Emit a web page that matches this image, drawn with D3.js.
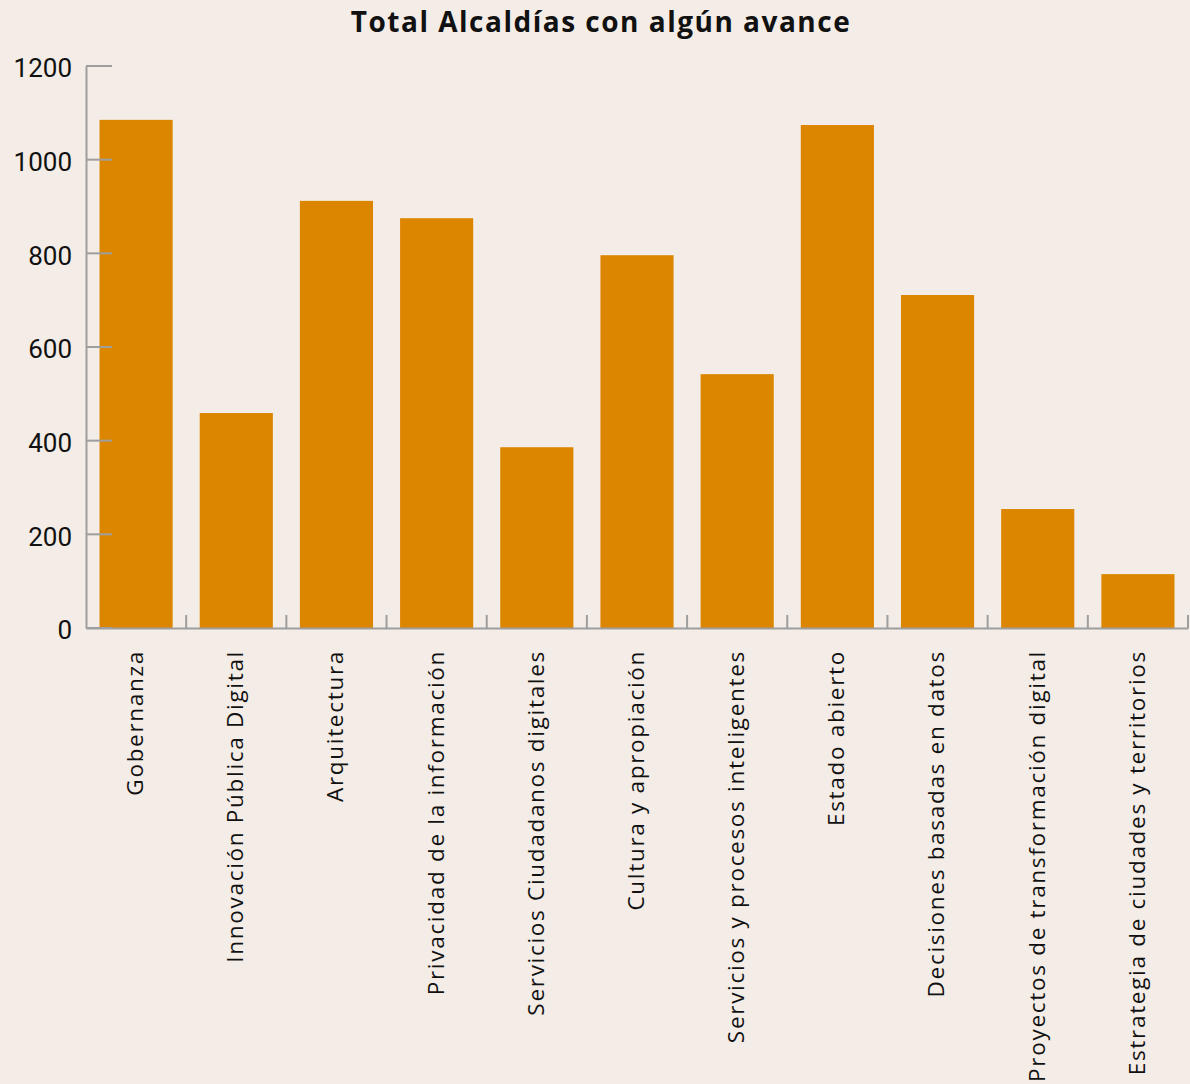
<!DOCTYPE html>
<html><head><meta charset="utf-8">
<script src="https://cdn.jsdelivr.net/npm/d3@7"></script>
<style>
html,body{margin:0;padding:0;background:#f4ece6;}
svg{display:block;}
</style></head>
<body>
<svg id="chart" width="1190" height="1084"></svg>
<script>
const categories = ["Gobernanza","Innovación Pública Digital","Arquitectura","Privacidad de la información","Servicios Ciudadanos digitales","Cultura y apropiación","Servicios y procesos inteligentes","Estado abierto","Decisiones basadas en datos","Proyectos de transformación digital","Estrategia de ciudades y territorios"];
const values = [1085, 459, 912, 875, 386, 796, 542, 1074, 711, 254, 115];
const yTicks = [0, 200, 400, 600, 800, 1000, 1200];
const title = "Total Alcaldías con algún avance";

const svg = d3.select("#chart");
svg.append("rect").attr("width",1190).attr("height",1084).attr("fill","#f4ece6");

const x0 = 86, x1 = 1188, yBase = 628, yTop = 66;
const x = d3.scaleBand().domain(categories).range([x0, x1]).paddingInner(0.27).paddingOuter(0.135);
const y = d3.scaleLinear().domain([0, 1200]).range([yBase, yTop]);

svg.append("text").attr("x", 601).attr("y", 32).attr("text-anchor","middle")
  .attr("font-family","'Open Sans', sans-serif").attr("font-weight","bold")
  .attr("font-size", 28).attr("letter-spacing", 1.5).attr("fill","#111").text(title);

// bars
svg.append("g").selectAll("rect").data(values).join("rect")
  .attr("x", (d,i) => x(categories[i]))
  .attr("width", x.bandwidth())
  .attr("y", d => y(d))
  .attr("height", d => yBase - y(d))
  .attr("fill", "#dc8600");

const axisColor = "#9e9e9e";
// y axis
const yAxis = svg.append("g").attr("transform", `translate(${x0},0)`)
  .call(d3.axisLeft(y).tickValues(yTicks).tickFormat(d3.format("d")).tickSize(0).tickPadding(14));
yAxis.select(".domain").attr("stroke", axisColor).attr("stroke-width", 2);
yAxis.selectAll(".tick text").attr("font-family","Roboto, sans-serif").attr("font-size", 26)
  .attr("dy", "0.42em").attr("fill","#111");
// inward y ticks
svg.append("g").selectAll("line").data(yTicks).join("line")
  .attr("x1", x0).attr("x2", x0 + 26).attr("y1", d => y(d)).attr("y2", d => y(d))
  .attr("stroke", axisColor).attr("stroke-width", 2);

// x axis line
const xAxis = svg.append("g").attr("transform", `translate(0,${yBase})`)
  .call(d3.axisBottom(x).tickSize(0).tickPadding(0));
xAxis.select(".domain").attr("stroke", axisColor).attr("stroke-width", 2);
xAxis.selectAll(".tick text")
  .attr("transform", "translate(-1,22) rotate(-90)")
  .attr("text-anchor", "end")
  .attr("dy", "0.35em")
  .attr("x", 0).attr("y", 0)
  .attr("font-family", "'Open Sans', sans-serif").attr("font-size", 22.5)
  .attr("letter-spacing", 1.7)
  .attr("fill", "#111");
// boundary ticks between bands (pointing up)
const step = x.step();
const bounds = d3.range(1, categories.length + 1).map(i => x0 + i * step);
svg.append("g").selectAll("line").data(bounds).join("line")
  .attr("x1", d => d).attr("x2", d => d).attr("y1", yBase).attr("y2", yBase - 13)
  .attr("stroke", axisColor).attr("stroke-width", 2);
</script>
</body></html>
